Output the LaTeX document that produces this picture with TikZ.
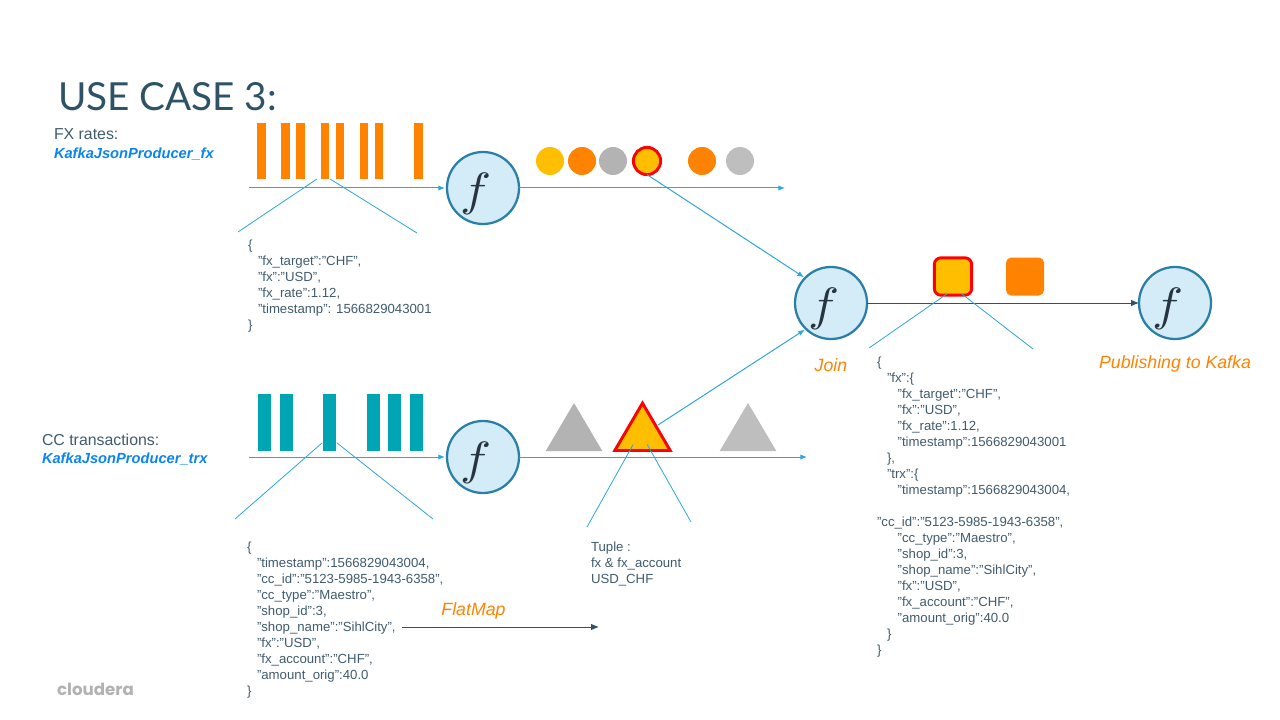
\documentclass[tikz,border=0pt]{standalone}
\usepackage{amsmath, amssymb}
\usepackage{fontspec}
\setmainfont{Liberation Sans}
\newfontfamily\titlefont{Lato}
\newfontfamily\logofont{Poppins}
\usepackage{tikz}
\usetikzlibrary{arrows.meta, shapes.geometric}
\definecolor{slatetext}{HTML}{3F5B6D}
\definecolor{slateline}{HTML}{2F5366}
\definecolor{flowblue}{HTML}{2BA6DE}
\definecolor{fnfill}{HTML}{D4EBF8}
\definecolor{fnring}{HTML}{2A7FA8}
\definecolor{fnglyph}{HTML}{26343E}
\definecolor{fxorange}{HTML}{FF8300}
\definecolor{fxamber}{HTML}{FFBF00}
\definecolor{trxteal}{HTML}{00A5B3}
\definecolor{eventgrey}{HTML}{B3B3B3}
\definecolor{paleevent}{HTML}{BEBEBE}
\definecolor{prodblue}{HTML}{0A84F0}
\newcommand{\indj}[1]{\hspace*{#1pt}}
\newcommand{\fnsym}{\raisebox{-13pt}[20pt][20pt]{\scalebox{3.9}[3.5]{$f$}}\hspace*{11pt}}
\begin{document}
\begin{tikzpicture}[
		x=0.75pt, y=-0.75pt,
		every node/.style={inner sep=0pt, outer sep=0pt},
		textblock/.style={anchor=north west, align=left, text=slatetext, font=\fontsize{9.9}{12}\selectfont},
		srclabel/.style={anchor=west, text=slatetext, font=\fontsize{11.9}{14}\selectfont},
		prodlabel/.style={anchor=west, text=prodblue, font=\fontsize{11}{13}\selectfont\bfseries\itshape},
		oplabel/.style={text=fxorange, font=\fontsize{13.3}{16}\selectfont\itshape},
		fn/.style={draw=fnring, line width=1.7pt, fill=fnfill, circle, minimum size=54pt, text=fnglyph},
		fxbar/.style={fill=fxorange, minimum width=6.6pt, minimum height=42pt},
		trxbar/.style={fill=trxteal, minimum width=9.6pt, minimum height=42.5pt},
		dot/.style={circle, minimum size=21pt},
		tri/.style={isosceles triangle, isosceles triangle stretches, shape border rotate=90, anchor=lower side, minimum width=42.5pt, minimum height=36pt},
		flow/.style={draw=flowblue, line width=0.75pt, -{Latex[length=5pt, width=4pt]}},
		darkflow/.style={draw=slateline, line width=0.75pt, -{Latex[length=6pt, width=5pt]}},
		callout/.style={draw=flowblue, line width=0.6pt}
		]
		\useasboundingbox (0,0) rectangle (1280,720);

		\node[anchor=west, text=slateline, font=\fontsize{29}{34}\titlefont] (title) at (58,97) {USE CASE 3:};
		\node[srclabel] (fxsrc) at (54,134.5) {FX rates:};
		\node[prodlabel] (fxprod) at (54,154) {KafkaJsonProducer\_fx};
		\node[srclabel] (trxsrc) at (42,440) {CC transactions:};
		\node[prodlabel] (trxprod) at (42,459) {KafkaJsonProducer\_trx};
		\node[anchor=west, text=black!30, font=\fontsize{12.5}{14}\logofont\bfseries] (logo) at (57,689) {cloudera};

		\node[fn] (ffx) at (483,188) {\fnsym};
		\node[fn] (ftrx) at (483,457) {\fnsym};
		\node[fn] (fjoin) at (831,303) {\fnsym};
		\node[fn] (fkafka) at (1175,303) {\fnsym};

		\node[fxbar] (b1) at (261.5,151) {};
		\node[fxbar] (b2) at (285.5,151) {};
		\node[fxbar] (b3) at (300.5,151) {};
		\node[fxbar] (b4) at (325,151) {};
		\node[fxbar] (b5) at (340,151) {};
		\node[fxbar] (b6) at (364,151) {};
		\node[fxbar] (b7) at (379,151) {};
		\node[fxbar] (b8) at (418.5,151) {};

		\node[trxbar] (t1) at (264.5,422.5) {};
		\node[trxbar] (t2) at (286.5,422.5) {};
		\node[trxbar] (t3) at (329.5,422.5) {};
		\node[trxbar] (t4) at (373.5,422.5) {};
		\node[trxbar] (t5) at (394.5,422.5) {};
		\node[trxbar] (t6) at (416.5,422.5) {};

		\node[dot, fill=fxamber] (c1) at (550,161) {};
		\node[dot, fill=fxorange] (c2) at (582,161) {};
		\node[dot, fill=eventgrey] (c3) at (613,161) {};
		\node[dot, fill=fxamber, draw=red, line width=2.2pt, minimum size=20.4pt] (c4) at (647,161) {};
		\node[dot, fill=fxorange] (c5) at (702,161) {};
		\node[dot, fill=paleevent] (c6) at (740,161) {};

		\node[tri, fill=eventgrey] (a1) at (574,451) {};
		\node[tri, fill=fxamber, draw=red, line width=2.2pt, line join=miter, minimum width=41.5pt, minimum height=35.5pt] (a2) at (642.5,450.5) {};
		\node[tri, fill=paleevent] (a3) at (748,451) {};

		\node[fill=fxamber, draw=red, line width=2.2pt, rounded corners=5pt, minimum size=28pt] (s1) at (953,276.5) {};
		\node[fill=fxorange, rounded corners=4pt, minimum size=28.5pt] (s2) at (1025,276.5) {};

		\coordinate (fxin) at (249,188);
		\coordinate (fxout) at (785,188);
		\coordinate (trxin) at (249,457);
		\coordinate (trxout) at (807,457);
		\coordinate (tupleout) at (658,425);
		\coordinate (flatin) at (402,627);
		\coordinate (flatout) at (599,627);
		\coordinate (fxlow) at (238,232);
		\coordinate (fxhigh) at (417,233);
		\coordinate (trxlow) at (235,519);
		\coordinate (trxhigh) at (433,519);
		\coordinate (tuplelow) at (587,527);
		\coordinate (tuplehigh) at (691,522);
		\coordinate (joinlow) at (869,348);
		\coordinate (joinhigh) at (1033,349);

		\draw[flow, shorten >=1.5pt] (fxin) -- (ffx);
		\draw[flow] (ffx) -- (fxout);
		\draw[flow, shorten >=1.5pt] (trxin) -- (ftrx);
		\draw[flow] (ftrx) -- (trxout);
		\draw[flow, shorten >=1pt] (c4.south) -- (fjoin.136);
		\draw[flow, shorten >=1pt] (tupleout) -- (fjoin.226);
		\draw[darkflow] (fjoin) -- (fkafka);
		\draw[darkflow] (flatin) -- (flatout);

		\draw[callout] ([xshift=-6pt]b4.south) -- (fxlow);
		\draw[callout] ([xshift=3.8pt]b4.south) -- (fxhigh);
		\draw[callout] ([xshift=-5.5pt, yshift=6pt]t3.south) -- (trxlow);
		\draw[callout] ([xshift=5.5pt, yshift=6pt]t3.south) -- (trxhigh);
		\draw[callout] ([xshift=-7pt, yshift=4.5pt]a2.lower side) -- (tuplelow);
		\draw[callout] ([xshift=3.5pt, yshift=4.5pt]a2.lower side) -- (tuplehigh);
		\draw[callout] ([xshift=-4.5pt, yshift=1pt]s1.south) -- (joinlow);
		\draw[callout] ([xshift=6.5pt, yshift=1pt]s1.south) -- (joinhigh);

		\node[oplabel] (join) at (831,365) {Join};
		\node[oplabel] (publish) at (1175,363.5) {Publishing to Kafka};
		\node[oplabel] (flatmap) at (473.5,611) {FlatMap};

		\node[textblock] (fxjson) at (248,240) {\{\\
			\indj{7.5}"fx\_target":”CHF",\\
			\indj{7.5}"fx":”USD",\\
			\indj{7.5}"fx\_rate":1.12,\\
			\indj{7.5}"timestamp": 1566829043001\\
			\}};
		\node[textblock] (trxjson) at (247,542) {\{\\
			\indj{7.5}"timestamp":1566829043004,\\
			\indj{7.5}"cc\_id":"5123-5985-1943-6358",\\
			\indj{7.5}"cc\_type":"Maestro",\\
			\indj{7.5}"shop\_id":3,\\
			\indj{7.5}"shop\_name":"SihlCity",\\
			\indj{7.5}"fx":"USD",\\
			\indj{7.5}"fx\_account":"CHF",\\
			\indj{7.5}"amount\_orig":40.0\\
			\}};
		\node[textblock] (tuple) at (591,542) {Tuple :\\
			fx \& fx\_account\\
			USD\_CHF};
		\node[textblock] (joinjson) at (877,357) {\{\\
			\indj{7.5}"fx":\{\\
			\indj{15.5}"fx\_target":"CHF",\\
			\indj{15.5}"fx":"USD",\\
			\indj{15.5}"fx\_rate":1.12,\\
			\indj{15.5}"timestamp":1566829043001\\
			\indj{7.5}\},\\
			\indj{7.5}"trx":\{\\
			\indj{15.5}"timestamp":1566829043004,\\[12pt]
			"cc\_id":"5123-5985-1943-6358",\\
			\indj{15.5}"cc\_type":"Maestro",\\
			\indj{15.5}"shop\_id":3,\\
			\indj{15.5}"shop\_name":"SihlCity",\\
			\indj{15.5}"fx":"USD",\\
			\indj{15.5}"fx\_account":"CHF",\\
			\indj{15.5}"amount\_orig":40.0\\
			\indj{7.5}\}\\
			\}};
	\end{tikzpicture}
\end{document}
